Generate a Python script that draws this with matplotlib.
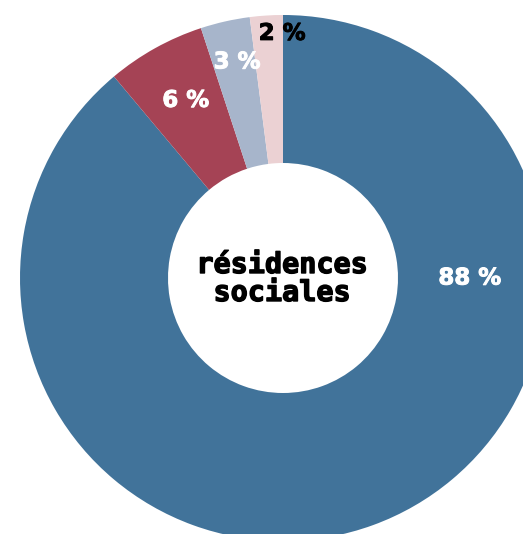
import numpy as np
import matplotlib.pyplot as plt
import matplotlib.patheffects as pe

# Part des logements par type
shares = [88, 6, 3, 2]
labels = ["88 %", "6 %", "3 %", "2 %"]
colors = ["#41739a", "#a54355", "#a7b5cb", "#ebd1d3"]
label_colors = ["white", "white", "white", "black"]
# label placement: (radius fraction, angle clockwise from top in degrees)
label_r = [0.71, 0.77, 0.84, 0.93]
label_ang = [90.0, -28.7, -12.0, -0.2]
center_text = "résidences\nsociales"

W, H = 523, 534
fig = plt.figure(figsize=(W / 100, H / 100), dpi=100)
ax = fig.add_axes([0, 0, 1, 1])

cx, cy, R = 283, H - 278, 263
ax.pie(shares, colors=colors, startangle=90, counterclock=False,
       center=(cx, cy), radius=R,
       wedgeprops=dict(width=R - 115, linewidth=0))

for lab, col, r, a in zip(labels, label_colors, label_r, label_ang):
    t = np.radians(a)
    x = cx + r * R * np.sin(t)
    y = cy + r * R * np.cos(t)
    ax.text(x, y, lab, color=col, ha="center", va="center",
            fontsize=16.5, fontweight="bold", family="DejaVu Sans",
            path_effects=[pe.withStroke(linewidth=0.7, foreground=col)])

# heavier lettering for the centre title
ax.text(cx - 1, cy - 1, center_text, ha="center", va="center",
        fontsize=20.5, fontweight="bold", family="DejaVu Sans Mono",
        linespacing=1.0, color="black",
        path_effects=[pe.withStroke(linewidth=1.0, foreground="black")])

ax.set_xlim(0, W)
ax.set_ylim(0, H)
ax.set_aspect("equal")
ax.axis("off")

fig.savefig("out.png", dpi=100)
